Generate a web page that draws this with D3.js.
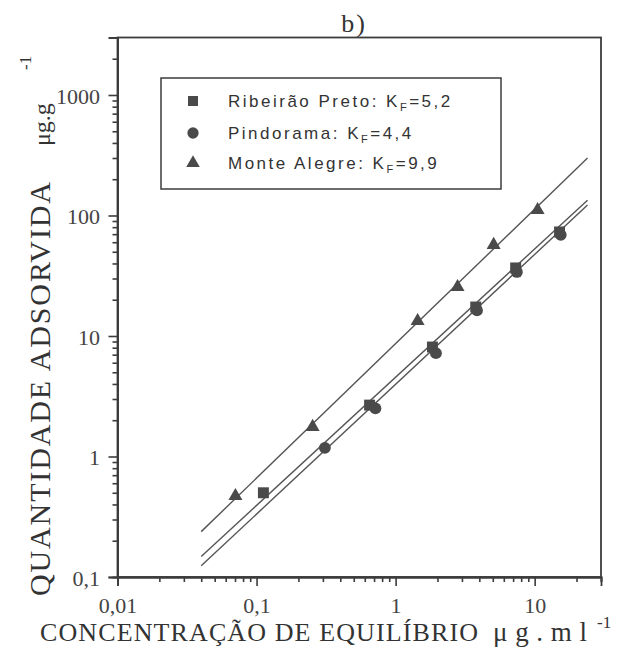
<!DOCTYPE html>
<html>
<head>
<meta charset="utf-8">
<script src="https://cdn.jsdelivr.net/npm/d3@7"></script>
<style>
  html, body { margin: 0; padding: 0; background: #fff; }
  svg { display: block; }
</style>
</head>
<body>
<svg id="chart" width="637" height="660"></svg>
<script>
// Freundlich adsorption isotherms for three soils (log-log)

const xTickValues = [0.01, 0.1, 1, 10];
const xTickLabels = ["0,01", "0,1", "1", "10"];
const yTickValues = [0.1, 1, 10, 100, 1000];
const yTickLabels = ["0,1", "1", "10", "100", "1000"];

const seriesNames = ["Ribeirão Preto", "Pindorama", "Monte Alegre"];
const kfLabels = ["5,2", "4,4", "9,9"];
const seriesSymbols = ["square", "circle", "triangle"];

// measured points (equilibrium concentration, adsorbed amount)
const ribeiraoX = [0.112, 0.65, 1.84, 3.77, 7.3, 15.1];
const ribeiraoY = [0.50, 2.67, 8.1, 17.4, 36.7, 73];
const pindoramaX = [0.31, 0.716, 1.95, 3.85, 7.45, 15.4];
const pindoramaY = [1.18, 2.51, 7.2, 16.3, 34, 69];
const monteX = [0.0705, 0.253, 1.44, 2.79, 5.07, 10.5];
const monteY = [0.47, 1.76, 13.3, 25.5, 57, 111];

// fitted isotherm lines, evaluated at both ends of the drawn range
const fitX = [0.04, 24];
const ribeiraoFit = [0.148, 134];
const pindoramaFit = [0.124, 122];
const monteFit = [0.238, 300];

const svg = d3.select("#chart");
const ink = "#4a4a4a";
const serif = "'Liberation Serif', 'Times New Roman', serif";
const sans = "'Liberation Sans', Arial, sans-serif";

const x = d3.scaleLog().domain([0.01, 30]).range([117.5, 601]);
const y = d3.scaleLog().domain([0.1, 3000]).range([577, 37.5]);

// minor ticks from the log scales' own tick generators
const xMinor = x.ticks().filter(v => !xTickValues.some(t => Math.abs(t - v) / t < 1e-6));
const yMinor = y.ticks().filter(v => !yTickValues.some(t => Math.abs(t - v) / t < 1e-6));

// frame
svg.append("rect")
  .attr("x", x.range()[0]).attr("y", y.range()[1])
  .attr("width", x.range()[1] - x.range()[0])
  .attr("height", y.range()[0] - y.range()[1])
  .attr("fill", "none").attr("stroke", "#3c3c3c").attr("stroke-width", 1.8);

// x axis
const gx = svg.append("g").attr("transform", `translate(0,${y.range()[0]})`);
gx.call(d3.axisBottom(x).tickValues(xTickValues)
  .tickFormat((d, i) => xTickLabels[i]).tickSize(9).tickPadding(11));
gx.append("g").call(d3.axisBottom(x).tickValues(xMinor).tickFormat("").tickSize(5));

// y axis
const gy = svg.append("g").attr("transform", `translate(${x.range()[0]},0)`);
gy.call(d3.axisLeft(y).tickValues(yTickValues)
  .tickFormat((d, i) => yTickLabels[i]).tickSize(9).tickPadding(8.5));
gy.append("g").call(d3.axisLeft(y).tickValues(yMinor).tickFormat("").tickSize(5));

svg.selectAll(".domain").attr("stroke", "#3c3c3c").attr("stroke-width", 1.8);
svg.selectAll(".tick line").attr("stroke", "#3c3c3c").attr("stroke-width", 1.6);
svg.selectAll(".tick text")
  .attr("font-family", serif).attr("font-size", 22).attr("fill", "#444");
gy.selectAll(".tick text").attr("dy", "0.38em");

// fitted lines
const line = d3.line().x(d => x(d[0])).y(d => y(d[1]));
[ribeiraoFit, pindoramaFit, monteFit].forEach(fit => {
  svg.append("path")
    .datum(fitX.map((v, i) => [v, fit[i]]))
    .attr("d", line)
    .attr("fill", "none").attr("stroke", "#555").attr("stroke-width", 1.4);
});

// symbols
const symbolTypes = { square: d3.symbolSquare, circle: d3.symbolCircle, triangle: d3.symbolTriangle };
const symbolSizes = { square: 120, circle: 110, triangle: 85 };
function drawPoints(xs, ys, sym) {
  svg.append("g").selectAll("path")
    .data(xs.map((v, i) => [v, ys[i]]))
    .join("path")
    .attr("transform", d => `translate(${x(d[0])},${y(d[1])})`)
    .attr("d", d3.symbol().type(symbolTypes[sym]).size(symbolSizes[sym]))
    .attr("fill", ink);
}
drawPoints(monteX, monteY, "triangle");
drawPoints(ribeiraoX, ribeiraoY, "square");
drawPoints(pindoramaX, pindoramaY, "circle");

// legend
const legend = svg.append("g");
legend.append("rect")
  .attr("x", 161).attr("y", 78).attr("width", 340).attr("height", 111)
  .attr("fill", "#fff").attr("stroke", "#3c3c3c").attr("stroke-width", 1.5);
const legendRows = [101, 133, 163];
seriesNames.forEach((name, i) => {
  const sym = seriesSymbols[i];
  legend.append("path")
    .attr("transform", `translate(193,${legendRows[i]})`)
    .attr("d", d3.symbol().type(symbolTypes[sym]).size(sym === "triangle" ? 80 : 100))
    .attr("fill", ink);
  const t = legend.append("text")
    .attr("x", 228).attr("y", legendRows[i] + 6)
    .attr("font-family", sans).attr("font-size", 17)
    .attr("letter-spacing", 2.5).attr("fill", "#333");
  t.append("tspan").text(name + ": K");
  t.append("tspan").attr("font-size", 11).attr("dy", 4).text("F");
  t.append("tspan").attr("dy", -4).text("=" + kfLabels[i]);
});

// panel title
svg.append("text")
  .attr("x", 354).attr("y", 32).attr("text-anchor", "middle")
  .attr("font-family", serif).attr("font-size", 26).attr("letter-spacing", 2)
  .attr("fill", "#333")
  .text("b)");

// x axis title
svg.append("text")
  .attr("x", 40).attr("y", 641)
  .attr("font-family", serif).attr("font-size", 26).attr("fill", "#333")
  .attr("textLength", 438).attr("lengthAdjust", "spacing")
  .text("CONCENTRAÇÃO DE EQUILÍBRIO");
svg.append("text")
  .attr("x", 493).attr("y", 641)
  .attr("font-family", serif).attr("font-size", 27).attr("fill", "#333")
  .attr("textLength", 94).attr("lengthAdjust", "spacing")
  .text("μg.ml");
svg.append("text")
  .attr("x", 597).attr("y", 628)
  .attr("font-family", serif).attr("font-size", 17).attr("fill", "#333")
  .text("-1");

// y axis title
svg.append("text")
  .attr("transform", "translate(50,596) rotate(-90)")
  .attr("font-family", serif).attr("font-size", 30).attr("fill", "#333")
  .attr("textLength", 414).attr("lengthAdjust", "spacing")
  .text("QUANTIDADE ADSORVIDA");
svg.append("text")
  .attr("transform", "translate(50,146) rotate(-90)")
  .attr("font-family", serif).attr("font-size", 24).attr("fill", "#333")
  .text("μg.g");
svg.append("text")
  .attr("transform", "translate(31,70) rotate(-90)")
  .attr("font-family", serif).attr("font-size", 17).attr("fill", "#333")
  .text("-1");
</script>
</body>
</html>
